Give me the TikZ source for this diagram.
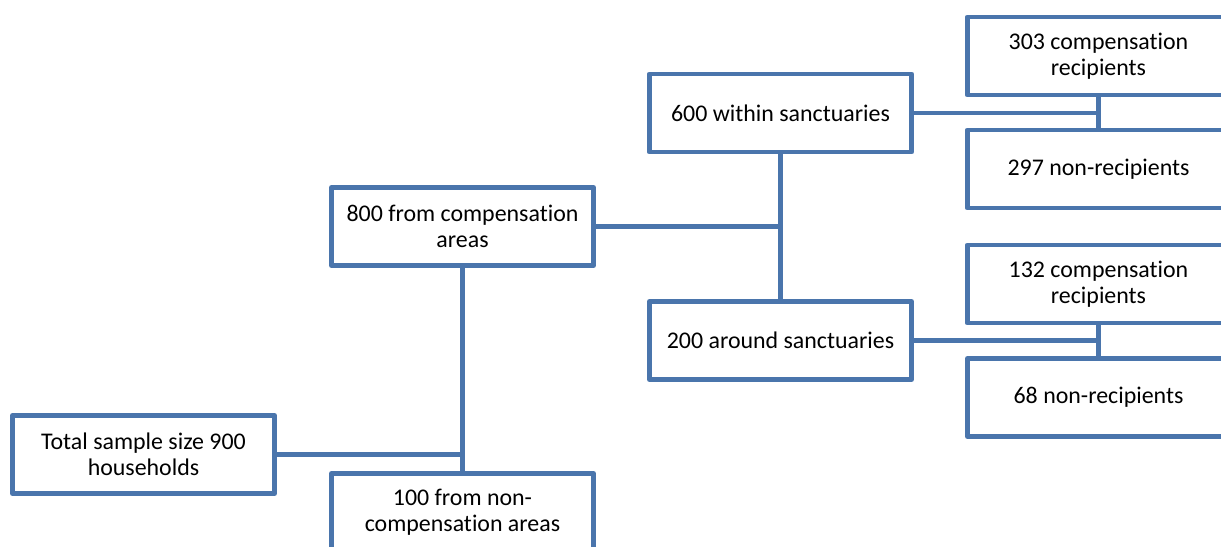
\documentclass[tikz,border=0pt]{standalone}
\usepackage{fontspec}
\setmainfont{Carlito}[Ligatures=NoCommon]
\usepackage{tikz}
\usetikzlibrary{positioning}

\definecolor{boxblue}{RGB}{74,117,172}

\tikzset{
    samplebox/.style={draw=boxblue, line width=2.8pt, line join=round, fill=white,
        minimum width=5.24cm, minimum height=1.56cm, align=center,
        font=\fontsize{13.6}{14.6}\selectfont},
    link/.style={draw=boxblue, line width=2.8pt}
}

\begin{document}
\begin{tikzpicture}[on grid]
                \clip (0,0) rectangle (24.42,-10.94);

                \node [samplebox] (total) at (2.87,-9.09) {Total sample size 900\\households};
                \node [samplebox, below right=1.16cm and 6.38cm of total] (nocomp) {100 from non-\\compensation areas};
                \node [samplebox, above=5.72cm of nocomp] (comp) {800 from compensation\\areas};
                \node [samplebox, above right=2.27cm and 6.36cm of comp] (within) {600 within sanctuaries};
                \node [samplebox, below=4.55cm of within] (around) {200 around sanctuaries};
                \node [samplebox, above right=1.14cm and 6.36cm of within] (withinrec) {303 compensation\\recipients};
                \node [samplebox, below=2.26cm of withinrec] (withinnon) {297 non-recipients};
                \node [samplebox, above right=1.13cm and 6.36cm of around] (aroundrec) {132 compensation\\recipients};
                \node [samplebox, below=2.27cm of aroundrec] (aroundnon) {68 non-recipients};

                % tree connectors
                \path [link] (comp.south) -- (nocomp.north);
                \path [link] (total.east) -- (total.east -| comp.south);
                \path [link] (within.south) -- (around.north);
                \path [link] (comp.east) -- (comp.east -| within.south);
                \path [link] (withinrec.south) -- (withinnon.north);
                \path [link] (within.east) -- (within.east -| withinrec.south);
                \path [link] (aroundrec.south) -- (aroundnon.north);
                \path [link] (around.east) -- (around.east -| aroundrec.south);
            \end{tikzpicture}
\end{document}
